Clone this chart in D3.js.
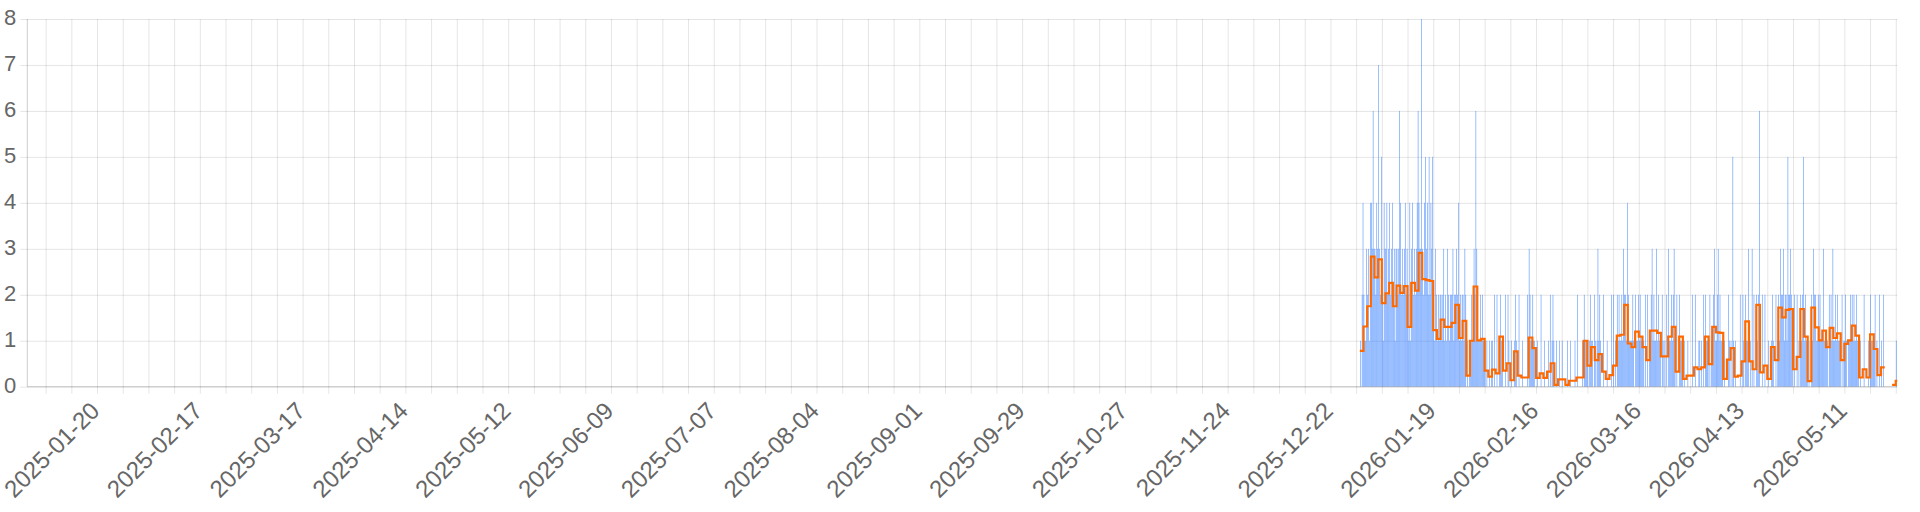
<!DOCTYPE html>
<html>
<head>
<meta charset="utf-8">
<script src="https://cdn.jsdelivr.net/npm/d3@7"></script>
<style>
  html, body { margin: 0; padding: 0; background: #fff; }
  svg { display: block; }
</style>
</head>
<body>
<svg id="chart" width="1920" height="512"></svg>
<script>
// ---------------- data ----------------
const domainStart = "2025-01-01T00:00:00Z";
const domainEnd   = "2026-05-25T10:00:00Z";
const seriesStart = "2025-12-30T00:00:00Z";

const yTickValues = [0, 1, 2, 3, 4, 5, 6, 7, 8];

const xTickLabels = [
  "2025-01-20", "2025-02-17", "2025-03-17", "2025-04-14", "2025-05-12", "2025-06-09",
  "2025-07-07", "2025-08-04", "2025-09-01", "2025-09-29", "2025-10-27", "2025-11-24",
  "2025-12-22", "2026-01-19", "2026-02-16", "2026-03-16", "2026-04-13", "2026-05-11"
];

// daily average (orange step line), one value per day from seriesStart
const dailyAverage = [
  0.78, 1.31, 1.75, 2.83, 2.38, 2.77, 1.82, 2.03, 2.26, 1.75,
  2.20, 2.04, 2.19, 1.30, 2.26, 2.09, 2.91, 2.34, 2.32, 2.30,
  1.23, 1.04, 1.46, 1.30, 1.30, 1.39, 1.78, 1.06, 1.43, 0.24,
  1.00, 2.18, 1.01, 1.04, 0.35, 0.22, 0.37, 0.29, 1.09, 0.35,
  0.51, 0.14, 0.77, 0.24, 0.20, 0.20, 1.07, 0.84, 0.19, 0.29,
  0.19, 0.33, 0.51, 0.04, 0.16, 0.16, 0.04, 0.13, 0.13, 0.20,
  0.20, 1.00, 0.46, 0.86, 0.58, 0.71, 0.33, 0.17, 0.25, 0.46,
  1.11, 1.13, 1.78, 0.94, 0.86, 1.20, 1.09, 0.86, 0.58, 1.22,
  1.22, 1.17, 0.66, 0.66, 1.09, 1.30, 0.33, 1.09, 0.17, 0.24,
  0.24, 0.42, 0.38, 0.42, 1.09, 0.49, 1.30, 1.18, 1.17, 0.17,
  0.59, 0.84, 0.22, 0.24, 0.55, 1.42, 0.55, 0.38, 1.78, 0.31,
  0.46, 0.17, 0.86, 0.58, 1.72, 1.51, 1.67, 1.69, 0.38, 0.65,
  1.69, 1.09, 0.12, 1.72, 1.29, 1.01, 1.22, 0.86, 1.28, 1.06,
  1.16, 0.58, 0.93, 1.01, 1.33, 1.11, 0.20, 0.38, 0.20, 1.14,
  0.82, 0.25, 0.42, null, null, 0.04, 0.13
];

// counts (blue bars), four 6-hour blocks per day from seriesStart
const blockCounts = [
  1,0,2,4, 2,1,1,3, 2,3,1,4, 4,3,6,3, 3,2,4,3, 7,3,2,5, 2,1,4,3, 3,4,2,3, 4,2,3,4, 2,3,1,3,
  3,2,3,6, 4,2,3,2, 3,4,2,3, 2,1,4,1, 3,4,2,3, 2,3,4,6, 4,3,3,8, 3,2,4,5, 3,4,2,5, 2,4,3,5,
  2,1,3,2, 1,2,1,2, 2,1,2,3, 1,2,1,3, 2,1,2,2, 2,3,1,2, 2,3,2,4, 1,2,1,2, 2,1,3,2, 0,1,0,1,
  1,2,1,2, 3,2,6,3, 2,1,1,2, 1,2,1,1, 1,0,1,0, 0,1,0,1, 1,0,2,0, 0,2,0,0, 1,2,1,1, 0,0,2,0,
  0,2,1,0, 0,1,0,0, 1,2,1,0, 0,2,0,0, 0,1,0,0, 0,0,2,0, 3,2,1,1, 2,1,1,0, 0,1,0,0, 0,2,0,0,
  0,1,0,0, 0,1,0,2, 0,1,2,1, 0,0,1,0, 0,1,0,0, 1,0,0,0, 0,0,1,0, 0,1,0,0, 0,0,1,0, 0,2,0,0,
  0,0,1,0, 2,1,1,1, 1,0,1,2, 1,1,0,2, 1,0,1,3, 1,2,1,0, 0,2,0,0, 0,1,0,0, 0,0,2,0, 2,0,1,0,
  2,1,2,1, 1,2,1,3, 2,2,1,4, 2,1,1,1, 1,2,1,0, 2,1,1,2, 1,2,1,1, 1,1,0,2, 0,2,0,1, 1,2,3,1,
  2,1,1,3, 1,2,1,1, 0,2,1,0, 1,0,2,0, 3,1,1,2, 1,2,3,1, 0,2,0,0, 2,1,1,1, 0,1,0,0, 0,1,0,0,
  0,0,2,0, 0,2,0,0, 0,1,1,0, 1,0,2,0, 2,1,1,1, 0,2,0,1, 1,2,3,1, 1,2,3,1, 2,1,1,1, 0,1,0,0,
  0,2,1,0, 1,0,5,1, 0,1,0,0, 0,0,2,0, 0,2,1,0, 2,1,1,3, 0,1,0,3, 0,2,0,0, 2,1,2,6, 0,0,2,0,
  0,2,0,0, 0,1,0,0, 1,2,1,0, 0,2,0,1, 2,1,3,2, 2,3,1,2, 2,1,5,2, 2,3,2,1, 0,2,0,0, 2,0,1,0,
  2,1,2,5, 1,2,1,1, 0,1,0,0, 2,1,3,2, 2,1,1,2, 1,2,1,1, 1,3,1,1, 1,1,0,2, 1,2,1,3, 1,1,2,1,
  2,1,1,1, 0,2,0,1, 1,2,1,0, 1,1,2,1, 2,1,2,1, 1,2,1,1, 0,1,0,0, 0,2,0,0, 0,0,1,0, 2,1,1,1,
  1,2,0,1, 0,0,2,0, 1,0,2,0, 0,0,0,0, 0,0,0,0, 0,0,0,0, 1,0,0,0
];
const blocksPerDay = 4;

// ---------------- layout ----------------
const W = 1920, H = 512;
const plot = { left: 27.3, right: 1897.3, top: 19, bottom: 386.7 };
const gridColor = "rgba(0,0,0,0.1)";
const axisColor = "rgba(0,0,0,0.2)";
const textColor = "#666";
const fontFamily = "'Liberation Sans', Arial, Helvetica, sans-serif";
const blueColor = "rgb(40,118,255)";
const orangeColor = "rgb(255,106,0)";

const svg = d3.select("#chart");
svg.append("rect").attr("width", W).attr("height", H).attr("fill", "#fff");

const x = d3.scaleUtc()
  .domain([new Date(domainStart), new Date(domainEnd)])
  .range([plot.left, plot.right]);
const y = d3.scaleLinear().domain([0, 8]).range([plot.bottom, plot.top]);

const tickLen = 7;

// vertical grid + tick marks (weekly)
const xGrid = svg.append("g")
  .attr("transform", `translate(0,${plot.bottom + tickLen})`)
  .call(d3.axisBottom(x)
    .ticks(d3.utcMonday.every(1))
    .tickSize(-(plot.bottom - plot.top + tickLen))
    .tickFormat(""));
xGrid.select(".domain").remove();
xGrid.selectAll(".tick line").attr("stroke", gridColor).attr("stroke-width", 1);

// horizontal grid + tick marks
const yGrid = svg.append("g")
  .attr("transform", `translate(${plot.left - tickLen},0)`)
  .call(d3.axisLeft(y)
    .tickValues(yTickValues)
    .tickSize(-(plot.right - plot.left + tickLen))
    .tickFormat(""));
yGrid.select(".domain").remove();
yGrid.selectAll(".tick line").attr("stroke", gridColor).attr("stroke-width", 1);

// y labels
const yLab = svg.append("g")
  .attr("transform", `translate(${plot.left - tickLen - 4},0)`)
  .call(d3.axisLeft(y).tickValues(yTickValues).tickSize(0).tickPadding(0).tickFormat(d3.format("d")));
yLab.select(".domain").remove();
yLab.selectAll("text")
  .attr("font-family", fontFamily)
  .attr("font-size", 22)
  .attr("fill", textColor)
  .attr("dy", "0.34em")
  .attr("y", -1.5);

// x labels
const parseDay = d3.utcParse("%Y-%m-%d");
const xLab = svg.append("g")
  .attr("transform", `translate(0,${plot.bottom})`)
  .call(d3.axisBottom(x)
    .tickValues(xTickLabels.map(parseDay))
    .tickSize(0)
    .tickFormat(d3.utcFormat("%Y-%m-%d")));
xLab.select(".domain").remove();
xLab.selectAll("text")
  .attr("font-family", fontFamily)
  .attr("font-size", 24)
  .attr("fill", textColor)
  .attr("text-anchor", "end")
  .attr("dy", 0)
  .attr("y", 0)
  .attr("transform", "translate(3.5,25.5) rotate(-45)");

// clip
svg.append("clipPath").attr("id", "clip")
  .append("rect")
  .attr("x", plot.left).attr("y", plot.top - 5)
  .attr("width", plot.right - plot.left).attr("height", plot.bottom - plot.top + 5);

const dataG = svg.append("g").attr("clip-path", "url(#clip)");

// blue bars
const t0 = new Date(seriesStart).getTime();
const blockMs = 86400000 / blocksPerDay;
const blocks = blockCounts.map((v, i) => ({ t: new Date(t0 + i * blockMs), v }));
const slotW = x(new Date(t0 + blockMs)) - x(new Date(t0));
dataG.append("g")
  .selectAll("rect")
  .data(blocks.filter(d => d.v > 0))
  .join("rect")
  .attr("x", d => x(d.t) + slotW * 0.2)
  .attr("width", slotW * 0.55)
  .attr("y", d => y(d.v))
  .attr("height", d => y(0) - y(d.v))
  .attr("fill", blueColor)
  .attr("fill-opacity", 0.92);

// orange step line, split into runs of defined days
const dayMs = 86400000;
const runs = [];
let cur = null;
dailyAverage.forEach((v, i) => {
  if (v === null) { cur = null; return; }
  if (!cur) { cur = []; runs.push(cur); }
  cur.push({ t: new Date(t0 + i * dayMs), v });
});
runs.forEach(r => {
  const last = r[r.length - 1];
  r.push({ t: new Date(last.t.getTime() + dayMs), v: last.v });
});
const line = d3.line()
  .x(d => x(d.t))
  .y(d => y(d.v))
  .curve(d3.curveStepAfter);
dataG.append("g")
  .selectAll("path")
  .data(runs)
  .join("path")
  .attr("d", line)
  .attr("fill", "none")
  .attr("stroke", orangeColor)
  .attr("stroke-width", 2.2)
  .attr("stroke-linejoin", "miter");

// axis lines
svg.append("line")
  .attr("x1", plot.left).attr("x2", plot.right)
  .attr("y1", plot.bottom).attr("y2", plot.bottom)
  .attr("stroke", axisColor).attr("stroke-width", 1);
svg.append("line")
  .attr("x1", plot.left).attr("x2", plot.left)
  .attr("y1", plot.top).attr("y2", plot.bottom)
  .attr("stroke", axisColor).attr("stroke-width", 1);
</script>
</body>
</html>
